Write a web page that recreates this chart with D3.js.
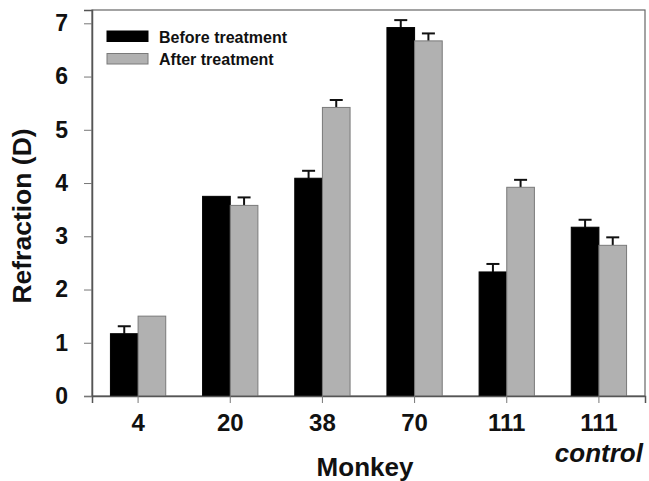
<!DOCTYPE html>
<html>
<head>
<meta charset="utf-8">
<script src="https://cdnjs.cloudflare.com/ajax/libs/d3/7.8.5/d3.min.js"></script>
<style>
  body { margin: 0; background: #fff; }
  text { font-family: "Liberation Sans", Arial, sans-serif; font-weight: bold; }
</style>
</head>
<body>
<svg id="chart" width="649" height="481"></svg>
<script>
// values
var monkeys = ["4", "20", "38", "70", "111", "111c"];
var before = [1.17, 3.75, 4.09, 6.92, 2.33, 3.17];
var beforeErr = [0.14, 0, 0.14, 0.14, 0.15, 0.14];
var after = [1.50, 3.58, 5.42, 6.67, 3.92, 2.83];
var afterErr = [0, 0.15, 0.14, 0.14, 0.14, 0.15];
var yTicks = [0, 1, 2, 3, 4, 5, 6, 7];
var seriesNames = ["Before treatment", "After treatment"];

var width = 649,
    height = 481,
    margin = {top: 10, right: 4, bottom: 85, left: 92};

var grayFill = "#b1b1b1",
    grayStroke = "#7a7a7a";

var svg = d3.select("#chart");

var x = d3.scaleBand()
    .domain(monkeys)
    .range([margin.left, width - margin.right]);

var y = d3.scaleLinear()
    .domain([0, 7.25])
    .range([height - margin.bottom, margin.top]);

var barW = x.bandwidth() * 0.3;

// frame
svg.append("rect")
    .attr("x", margin.left)
    .attr("y", margin.top)
    .attr("width", width - margin.right - margin.left)
    .attr("height", height - margin.bottom - margin.top)
    .attr("fill", "none")
    .attr("stroke", "#666")
    .attr("stroke-width", 1.2);

var rows = monkeys.map(function(m, i) {
    return {m: m, b: before[i], be: beforeErr[i], a: after[i], ae: afterErr[i]};
});

// error bars first, bars drawn after so stems start at bar top
function errBar(g, cx, v, e) {
    if (!e) return;
    g.append("line")
        .attr("x1", cx).attr("x2", cx)
        .attr("y1", y(v)).attr("y2", y(v + e))
        .attr("stroke", "#111").attr("stroke-width", 2);
    g.append("line")
        .attr("x1", cx - 6.5).attr("x2", cx + 6.5)
        .attr("y1", y(v + e)).attr("y2", y(v + e))
        .attr("stroke", "#111").attr("stroke-width", 2);
}

var gErr = svg.append("g");
rows.forEach(function(d) {
    var c = x(d.m) + x.bandwidth() / 2;
    errBar(gErr, c - barW / 2, d.b, d.be);
    errBar(gErr, c + barW / 2, d.a, d.ae);
});

var gBars = svg.append("g");
gBars.selectAll("rect.before")
    .data(rows)
    .join("rect")
    .attr("class", "before")
    .attr("x", d => x(d.m) + x.bandwidth() / 2 - barW)
    .attr("y", d => y(d.b))
    .attr("width", barW)
    .attr("height", d => y(0) - y(d.b))
    .attr("fill", "#000")
    .attr("stroke", "#000")
    .attr("stroke-width", 1);

gBars.selectAll("rect.after")
    .data(rows)
    .join("rect")
    .attr("class", "after")
    .attr("x", d => x(d.m) + x.bandwidth() / 2)
    .attr("y", d => y(d.a))
    .attr("width", barW)
    .attr("height", d => y(0) - y(d.a))
    .attr("fill", grayFill)
    .attr("stroke", grayStroke)
    .attr("stroke-width", 1);

// axes
var yAxis = svg.append("g")
    .attr("transform", "translate(" + margin.left + ",0)")
    .call(d3.axisLeft(y).tickValues(yTicks).tickSize(8).tickPadding(16).tickFormat(d3.format("d")));
yAxis.select(".domain").attr("stroke", "#555").attr("stroke-width", 1.5);
yAxis.selectAll(".tick line").attr("stroke", "#777");
yAxis.selectAll(".tick text")
    .attr("font-size", 23)
    .attr("font-family", "Liberation Sans, Arial, sans-serif")
    .attr("font-weight", "bold")
    .attr("fill", "#111");

var xAxis = svg.append("g")
    .attr("transform", "translate(0," + y(0) + ")")
    .call(d3.axisBottom(x).tickSize(7).tickPadding(11).tickFormat(d => d.replace("c", "")));
xAxis.select(".domain").attr("stroke", "#555").attr("stroke-width", 1.5);
xAxis.selectAll(".tick line").attr("stroke", "#777");
xAxis.selectAll(".tick text")
    .attr("font-size", 24)
    .attr("font-family", "Liberation Sans, Arial, sans-serif")
    .attr("font-weight", "bold")
    .attr("fill", "#111");

// "control" under the last tick
svg.append("text")
    .attr("x", x("111c") + x.bandwidth() / 2)
    .attr("y", 462)
    .attr("text-anchor", "middle")
    .attr("font-size", 26)
    .attr("font-style", "italic")
    .attr("fill", "#111")
    .text("control");

// axis titles
svg.append("text")
    .attr("x", 365)
    .attr("y", 476)
    .attr("text-anchor", "middle")
    .attr("font-size", 26)
    .attr("fill", "#111")
    .text("Monkey");

svg.append("text")
    .attr("transform", "translate(31,216) rotate(-90)")
    .attr("text-anchor", "middle")
    .attr("font-size", 26.5)
    .attr("fill", "#111")
    .text("Refraction (D)");

// legend
var legend = svg.append("g").attr("transform", "translate(107,31)");
seriesNames.forEach(function(name, i) {
    var row = legend.append("g").attr("transform", "translate(0," + (i * 22.5) + ")");
    row.append("rect")
        .attr("width", 41).attr("height", 10.5)
        .attr("fill", i === 0 ? "#000" : grayFill)
        .attr("stroke", i === 0 ? "#000" : grayStroke);
    row.append("text")
        .attr("x", 52).attr("y", 11.5)
        .attr("font-size", 16)
        .attr("fill", "#111")
        .text(name);
});
</script>
</body>
</html>
